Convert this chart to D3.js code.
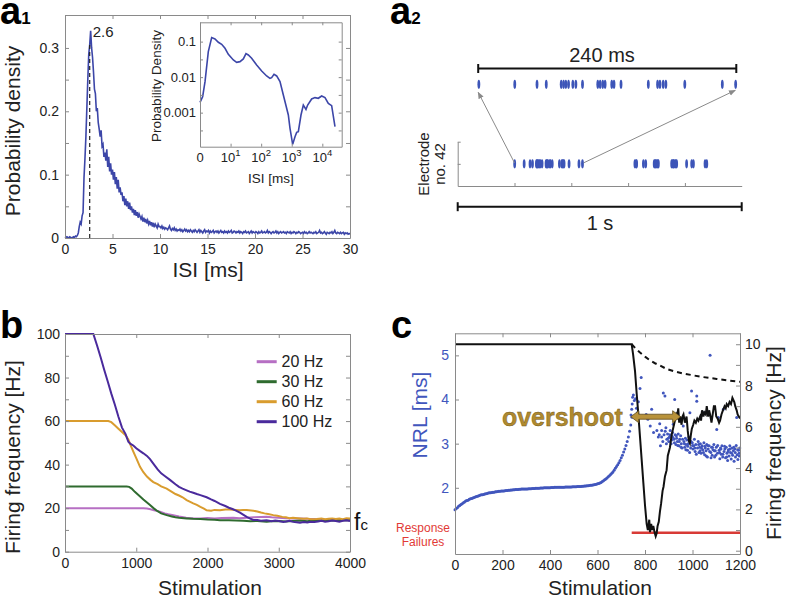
<!DOCTYPE html>
<html><head><meta charset="utf-8">
<script src="https://cdn.jsdelivr.net/npm/d3@7"></script>
<style>body{margin:0;background:#fff}svg{display:block}</style>
</head><body>
<script>
// ================= DATA =================
// a1: ISI histogram (probability density), bins of 0.1 ms from 0 to 30 ms
const isiStepMs = 0.1;
const isiDensity = [
0.000,0.001,0.002,0.001,0.000,0.002,0.001,0.000,0.001,0.002,
0.001,0.003,0.002,0.004,0.008,0.018,0.025,0.022,0.035,0.040,
0.095,0.125,0.160,0.205,0.250,0.290,0.305,0.327,0.300,0.285,
0.262,0.235,0.228,0.200,0.205,0.182,0.172,0.160,0.170,0.145,
0.148,0.128,0.135,0.122,0.140,0.112,0.128,0.105,0.118,0.100,
0.108,0.092,0.104,0.085,0.096,0.078,0.092,0.072,0.080,0.068,
0.072,0.058,0.066,0.052,0.062,0.050,0.058,0.046,0.056,0.044,
0.050,0.040,0.046,0.036,0.044,0.035,0.041,0.032,0.038,0.034,
0.030,0.034,0.026,0.032,0.025,0.030,0.023,0.028,0.022,0.027,
0.020,0.025,0.018,0.024,0.017,0.022,0.019,0.016,0.022,0.018,
0.018,0.016,0.019,0.015,0.017,0.014,0.016,0.015,0.013,0.016,
0.019,0.014,0.012,0.015,0.013,0.016,0.012,0.014,0.011,0.013,
0.012,0.014,0.011,0.013,0.010,0.012,0.014,0.011,0.013,0.010,
0.012,0.010,0.013,0.011,0.009,0.012,0.010,0.013,0.011,0.009,
0.011,0.013,0.009,0.012,0.010,0.008,0.011,0.013,0.009,0.011,
0.010,0.012,0.008,0.011,0.009,0.010,0.012,0.008,0.010,0.011,
0.009,0.011,0.008,0.010,0.012,0.009,0.010,0.008,0.011,0.009,
0.010,0.008,0.011,0.009,0.010,0.012,0.008,0.009,0.011,0.010,
0.008,0.010,0.009,0.011,0.008,0.010,0.009,0.007,0.010,0.009,
0.011,0.008,0.009,0.010,0.007,0.009,0.011,0.008,0.010,0.009,
0.008,0.010,0.009,0.007,0.010,0.008,0.009,0.011,0.008,0.009,
0.010,0.008,0.009,0.012,0.008,0.010,0.009,0.007,0.009,0.010,
0.008,0.009,0.011,0.008,0.010,0.007,0.009,0.010,0.008,0.009,
0.010,0.008,0.009,0.007,0.010,0.009,0.008,0.010,0.007,0.009,
0.008,0.010,0.009,0.007,0.009,0.008,0.010,0.009,0.007,0.008,
0.009,0.007,0.010,0.008,0.009,0.007,0.008,0.010,0.008,0.009,
0.008,0.007,0.009,0.008,0.010,0.007,0.008,0.009,0.012,0.008,
0.009,0.007,0.008,0.010,0.008,0.006,0.009,0.008,0.007,0.009,
0.008,0.010,0.007,0.009,0.012,0.008,0.007,0.009,0.008,0.007,
0.009,0.007,0.008,0.009,0.006,0.008,0.007,0.008,0.006,0.007,
0.006];
const isiPeakMs = 2.6;
const isiXTicks = [0,5,10,15,20,25,30];
const isiYTicks = [0,0.05,0.1,0.15,0.2,0.25,0.3];

// a1 inset: log-log ISI density
const insetISI = [1,1.22,1.46,1.87,2.41,3.09,3.98,5.11,6.57,8.44,12.3,15.8,20.3,26.1,31.9,38.0,48.9,71.2,104,151,194,220,263,321,413,531,773,877,1072,1277,1449,1641,2006,2392,2923,3315,4477,5754,7396,9506,12218,15703,20184,25942];
const insetDensity = [0.00195,0.00282,0.00746,0.0522,0.130,0.119,0.0957,0.084,0.065,0.044,0.0305,0.0262,0.0273,0.0325,0.0459,0.0421,0.0339,0.0220,0.0149,0.0108,0.00927,0.00968,0.0120,0.0108,0.00746,0.00315,0.000859,0.000362,0.000128,0.000211,0.000279,0.000292,0.000859,0.00164,0.00124,0.00164,0.00243,0.00265,0.00254,0.00295,0.00265,0.00183,0.00157,0.000404];
const insetXTicks = [1,10,100,1000,10000];
const insetYTicks = [0.1,0.0316,0.01,0.00316,0.001,0.000316];

// a2: spike times of electrode no. 42 within 1 s (ms)
const spikeTimesMs = [200.6,234,254.7,263.3,277.2,279.4,281.5,284,288,290.8,297,311.2,313.4,315.8,318,324.2,326.3,332.8,358.2,366.8,369,372,374.5,392.1,427,439.4,
  624,628,630,654,662,692,695,697,700.7,704,706.6,753.5,757,759.4,761,765,768,771,806,824,830,871,877];
const zoomWindowMs = [200,440];
const rasterTicksMs = [200,400,600,800];

// b: firing frequency vs stimulation for 4 stimulation rates
const freqLabels = ["20 Hz","30 Hz","60 Hz","100 Hz"];
const f20Stim = [0,1099,1150,1200,1250,1333,1400,1450,1520,1600,1700,1801,1900,2000,2100,2200,2362,2450,2550,2650,2750,2830,2900,3000,3100,3200,3298,3400,3500,3600,3700,3800,3900,4000];
const f20Hz   = [20,20,19.8,19.5,19,18.4,17.6,17.2,16.8,16.2,15.6,15.3,15.3,15.5,15.3,15.5,15.6,15.4,15.6,15.8,15.9,16,15.8,15.6,15.4,15.3,15.3,15.1,15,14.8,14.6,14.7,14.5,14.5];
const f30Stim = [0,865,900,936,980,1050,1100,1193,1250,1300,1350,1427,1500,1550,1600,1707,1800,1900,2000,2100,2175,2300,2400,2500,2600,2700,2830,2900,3000,3100,3200,3300,3400,3500,3600,3700,3800,3900,4000];
const f30Hz   = [30,30,29.8,29,27.5,25.5,24,21.4,19.8,18.6,17.6,16.8,16.2,15.8,15.6,15.3,15.1,15,14.8,14.7,14.5,14.4,14.3,14.2,14,14.1,13.8,14,14.1,13.9,14.1,14.3,14,14.4,14.2,14.5,14.3,14.6,14.4];
const f60Stim = [0,608,650,702,750,800,850,889,920,959,1000,1053,1100,1150,1200,1240,1300,1350,1427,1500,1550,1600,1650,1707,1750,1800,1850,1900,1950,1988,2050,2100,2175,2250,2316,2400,2450,2500,2550,2643,2700,2750,2800,2850,2924,2980,3050,3100,3150,3200,3298,3350,3400,3450,3532,3600,3650,3700,3750,3800,3850,3900,3950,4000];
const f60Hz   = [60,60,59.5,58,56.5,55,53.5,51.5,49,46,43,39,36.5,34.5,33,32,31,30,29,27.5,26.5,25.8,25,23.7,23,22.2,21.5,20.6,19.8,19,18.8,19.2,19,19.4,19.4,19.2,19,19.2,19.1,18.8,18.5,18,17.6,17.3,16.8,16.5,16,15.8,15.4,15.6,15.3,15.1,15.3,14.9,15,15.2,14.9,15.1,15.3,15,15.2,14.9,15.4,15.3];
const f100Stim = [0,398,450,500,550,600,650,700,750,800,850,889,920,959,1000,1050,1100,1150,1193,1250,1300,1350,1400,1473,1550,1600,1650,1707,1750,1800,1850,1900,1988,2050,2100,2175,2250,2300,2350,2400,2456,2500,2550,2600,2643,2700,2750,2830,2900,2950,3000,3064,3100,3150,3200,3250,3298,3350,3400,3450,3500,3550,3600,3650,3700,3750,3800,3850,3900,3950,4000];
const f100Hz   = [100,100,94.7,89.3,83.6,78.2,72.6,67.5,62,57,54,50.5,49.5,48.8,47.5,46.3,45.2,44,42.5,40,37.8,36,34.8,33,31,29.8,29,28.2,27.6,27.1,26.5,26,25,24,23.3,22,21,20.2,19.6,18.9,17.9,17,16,15.2,14.6,14.6,14.2,14.4,14,14.3,14.1,13.6,13.9,14.2,13.7,13.5,13.3,13.6,13.4,13.8,13.6,13.9,14.2,13.8,14,14.3,14.1,13.8,14.2,14.4,14.1];
const bXTicks = [0,1000,2000,3000,4000];
const bYTicks = [0,10,20,30,40,50,60,70,80,90,100];

// c: NRL (ms) per stimulation, before failures (every 5th stimulation 0..745)
const nrlEarlyStep = 5;
const nrlEarly = [
1.50,1.53,1.55,1.58,1.60,1.62,1.64,1.66,1.68,1.70,
1.71,1.72,1.74,1.75,1.76,1.77,1.78,1.79,1.80,1.81,
1.82,1.83,1.84,1.845,1.85,1.86,1.865,1.87,1.88,1.885,
1.89,1.895,1.90,1.90,1.91,1.91,1.915,1.92,1.92,1.925,
1.93,1.93,1.935,1.94,1.94,1.945,1.945,1.95,1.95,1.955,
1.955,1.96,1.96,1.96,1.965,1.965,1.97,1.97,1.97,1.975,
1.975,1.975,1.98,1.98,1.98,1.985,1.985,1.985,1.99,1.99,
1.99,1.99,1.995,1.995,1.995,2.0,2.0,2.0,2.0,2.0,
2.0,2.005,2.005,2.005,2.01,2.01,2.01,2.01,2.01,2.015,
2.015,2.015,2.015,2.02,2.02,2.02,2.02,2.02,2.02,2.025,
2.025,2.025,2.025,2.03,2.03,2.03,2.03,2.035,2.035,2.04,
2.04,2.045,2.045,2.05,2.055,2.06,2.065,2.07,2.075,2.08,
2.09,2.10,2.11,2.12,2.14,2.16,2.18,2.20,2.22,2.25,
2.27,2.30,2.33,2.36,2.40,2.44,2.48,2.52,2.57,2.62,
2.68,2.74,2.81,2.88,2.96,3.05,3.15,3.28,3.42,3.60];
// c: NRL scatter after failures begin [stimulation, NRL ms]
const nrlLate = [[741,3.65],[744,3.78],[746,3.9],[748,4.05],[751,4.1],[755,3.98],[760,4.02],[764,3.8],[768,3.7],[772,3.95],[779,4.25],[784,4.5],[790,3.62],[805,3.66],[812,3.55],[822,3.4],[828,3.78],[836,3.25],[845,3.59],[850,3.3],[856,3.15],[862,3.45],[870,3.3],[877,4.15],[880,3.2],[884,4.08],[888,3.36],[892,3.1],[895,3.22],[900,3.05],[903,3.15],[906,3.3],[910,3.0],[913,3.18],[916,3.25],[919,3.44],[922,3.1],[925,4.0],[927,3.2],[930,2.98],[933,3.12],[936,3.05],[940,3.22],[943,2.95],[946,3.1],[950,3.18],[953,3.0],[956,2.9],[961,3.4],[964,3.05],[967,2.92],[970,3.12],[973,2.98],[976,3.08],[979,2.85],[982,3.0],[985,3.15],[989,3.7],[992,2.9],[996,4.19],[999,3.02],[1002,2.88],[1005,2.95],[1008,3.1],[1011,2.82],[1014,2.98],[1018,4.08],[1018,3.96],[1021,2.9],[1024,3.05],[1027,2.8],[1030,2.92],[1033,3.0],[1036,2.78],[1040,2.95],[1043,2.86],[1045,3.7],[1048,3.02],[1051,2.75],[1054,2.9],[1057,2.84],[1060,2.98],[1063,2.7],[1066,2.88],[1070,2.95],[1074,5.0],[1077,2.8],[1080,2.92],[1083,2.74],[1086,2.86],[1090,2.98],[1093,2.7],[1096,2.84],[1100,2.92],[1102,3.32],[1105,2.78],[1109,3.59],[1112,2.85],[1115,2.66],[1118,2.9],[1121,2.76],[1124,2.95],[1127,2.7],[1130,3.78],[1133,2.82],[1136,2.88],[1139,2.68],[1142,2.92],[1145,2.78],[1148,2.62],[1151,2.86],[1154,2.72],[1157,2.95],[1160,2.8],[1163,2.65],[1166,2.9],[1169,2.74],[1172,2.84],[1175,2.6],[1178,2.88],[1181,2.7],[1184,2.96],[1186,3.59],[1188,2.75],[1191,2.64],[1194,2.85],[1197,2.72],[1199,2.9],
[898,3.12],[905,3.2],[912,3.08],[918,3.14],[924,3.02],[932,3.18],[938,2.96],[944,3.05],[952,2.92],[958,3.1],[966,3.0],[972,2.86],[980,2.94],[988,2.8],[994,3.05],[1000,2.96],[1010,2.9],[1016,2.76],[1026,2.98],[1032,2.84],[1038,2.9],[1046,2.8],[1052,2.94],[1058,2.72],[1064,2.96],[1072,2.82],[1078,2.68],[1084,2.92],[1092,2.84],[1098,2.74],[1106,2.96],[1114,2.8],[1120,2.88],[1128,2.76],[1135,2.94],[1144,2.7],[1150,2.82],[1158,2.88],[1165,2.78],[1174,2.92],[1180,2.8],[1190,2.86],[1196,2.78],[870,3.15],[875,3.05],[885,3.28],[890,3.0],[860,3.2],[865,2.95]];
// c: firing frequency (Hz), solid and dashed
const fireStim = [0,744,750,758,765,772,779,786,793,800,807,812,818,821,826,830,835,840,845,849,853,858,863,868,874,878,884,891,896,905,912,920,926,932,936,940,944,948,954,958,962,968,975,980,985,989,993,997,1003,1008,1014,1020,1025,1032,1036,1040,1046,1050,1056,1060,1066,1070,1074,1080,1085,1090,1095,1100,1106,1112,1116,1122,1128,1135,1140,1144,1150,1156,1162,1168,1172,1176,1180,1186,1190,1195,1200];
const fireHz   = [10,10,9.5,8.7,7.6,6.6,5.5,4.4,3.3,2.2,1.3,1.0,1.5,0.9,1.3,1.0,1.2,0.9,0.7,0.84,1.2,1.4,1.9,2.3,2.9,3.1,3.6,3.9,4.6,5.0,5.6,6.0,6.3,6.6,6.5,6.9,6.2,6.5,6.1,6.5,6.6,6.2,6.5,5.8,5.3,5.2,5.6,5.9,6.1,6.3,6.2,6.4,6.3,6.5,6.3,6.8,6.5,6.7,6.6,7.0,6.5,6.8,6.6,6.2,6.6,7.0,7.0,6.5,6.4,6.2,6.3,6.6,6.8,7.0,6.9,7.1,7.0,7.2,7.1,7.4,7.3,7.2,7.0,6.8,6.6,6.5,6.4];
const fireDashStim = [744,760,779,800,821,842,863,891,920,961,1000,1032,1070,1102,1150,1200];
const fireDashHz   = [10,9.8,9.6,9.4,9.22,9.08,8.97,8.8,8.7,8.58,8.5,8.43,8.37,8.32,8.24,8.18];
const failureRange = [744,1200];
const failureHzLevel = 0.87;
const overshootRange = [740,950];
const overshootNRL = 3.61;
const cXTicks = [0,200,400,600,800,1000,1200];
const cNRLTicks = [2,3,4,5];
const cHzTicks = [0,1,2,3,4,5,6,7,8,9,10];

// ================= DRAWING =================
const FONT = "Arial, 'Liberation Sans', Helvetica, sans-serif";
const C_AX = "#8a8a8a", C_TXT = "#222";
const BLUE = "#3c46a8";
const svg = d3.select("body").append("svg").attr("width",787).attr("height",600)
  .attr("font-family", FONT);

function styleAxis(s, fs, color) {
  s.attr("font-family", FONT).attr("font-size", fs);
  s.select(".domain").attr("stroke", C_AX).attr("stroke-width", 1);
  s.selectAll(".tick line").attr("stroke", C_AX);
  s.selectAll(".tick text").attr("fill", color || C_TXT);
}
function boxAxes(g, x, y, o) {
  const L = o.len || 4;
  const yb = y.range()[0], yt = y.range()[1], xl = x.range()[0], xr = x.range()[1];
  const none = () => "";
  g.append("g").attr("transform", `translate(0,${yb})`)
    .call(d3.axisBottom(x).tickValues(o.xTicks).tickSize(-L).tickSizeOuter(0).tickPadding(o.xPad ?? 5).tickFormat(o.xFmt || (d => d)))
    .call(s => styleAxis(s, o.fs || 14));
  g.append("g").attr("transform", `translate(0,${yt})`)
    .call(d3.axisTop(x).tickValues(o.xTicks).tickSize(-L).tickSizeOuter(0).tickFormat(none))
    .call(s => styleAxis(s, 10));
  g.append("g").attr("transform", `translate(${xl},0)`)
    .call(d3.axisLeft(y).tickValues(o.yTicks).tickSize(-L).tickSizeOuter(0).tickPadding(o.yPad ?? 5).tickFormat(o.yFmt || (d => d)))
    .call(s => styleAxis(s, o.fs || 14, o.yColor));
  if (!o.noRight) {
    g.append("g").attr("transform", `translate(${xr},0)`)
      .call(d3.axisRight(y).tickValues(o.yTicks).tickSize(-L).tickSizeOuter(0).tickFormat(none))
      .call(s => styleAxis(s, 10));
  }
}
function label(x, y, txt, size, opts = {}) {
  const t = svg.append("text").attr("x", x).attr("y", y).attr("font-size", size)
    .attr("fill", opts.fill || C_TXT).attr("text-anchor", opts.anchor || "middle").text(txt);
  if (opts.rotate) t.attr("transform", `rotate(-90,${x},${y})`);
  if (opts.weight) t.attr("font-weight", opts.weight);
  return t;
}
function panelLabel(x, y, main, sub) {
  const t = svg.append("text").attr("x", x).attr("y", y).attr("font-size", 38).attr("font-weight", "bold").attr("fill", "#000");
  t.append("tspan").text(main);
  if (sub) t.append("tspan").attr("font-size", 17).text(sub);
}

// ---------- a1 ----------
{
  const g = svg.append("g");
  const x = d3.scaleLinear().domain([0,30]).range([65,350]);
  const y = d3.scaleLinear().domain([0,0.352]).range([238,15]);
  const pts = isiDensity.map((v,i) => [i*isiStepMs, v]);
  g.append("path").datum(pts).attr("fill","none").attr("stroke",BLUE).attr("stroke-width",1.6)
    .attr("d", d3.line().x(d=>x(d[0])).y(d=>y(d[1])));
  const peakVal = isiDensity[Math.round(isiPeakMs/isiStepMs)];
  g.append("line").attr("x1",x(isiPeakMs)).attr("x2",x(isiPeakMs)).attr("y1",y(0)).attr("y2",y(peakVal))
    .attr("stroke","#222").attr("stroke-width",1.2).attr("stroke-dasharray","4,3");
  g.append("text").attr("x", x(isiPeakMs)+3).attr("y", y(0.318)).attr("font-size",15).attr("fill",C_TXT).text(String(isiPeakMs));
  boxAxes(g, x, y, {xTicks: isiXTicks, yTicks: isiYTicks, xPad: 6, yPad: 6,
    yFmt: d => (Math.round(d*100) % 10 === 0 ? (d === 0 ? "0" : d.toFixed(1)) : "")});
  label(20, 131, "Probability density", 21, {rotate: true});
  label(208, 277, "ISI [ms]", 21);
  panelLabel(0, 24, "a", "1");

  // inset
  const ix = d3.scaleLog().domain([1, 43000]).range([200, 341.7]);
  const iy = d3.scaleLog().domain([1.1e-4, 0.35]).range([146.7, 22.3]);
  g.append("rect").attr("x",200).attr("y",22.3).attr("width",141.7).attr("height",124.4).attr("fill","#fff");
  g.append("path").datum(insetISI.map((v,i)=>[v, insetDensity[i]])).attr("fill","none").attr("stroke",BLUE).attr("stroke-width",1.6)
    .attr("d", d3.line().x(d=>ix(d[0])).y(d=>iy(d[1])));
  const isDecade = d => Math.abs(Math.log10(d) - Math.round(Math.log10(d))) < 1e-3;
  boxAxes(g, ix, iy, {xTicks: insetXTicks, yTicks: insetYTicks, fs: 13, len: 3, xPad: 5, yPad: 4,
    xFmt: d => "", yFmt: d => isDecade(d) ? String(d) : ""});
  insetXTicks.forEach(v => {
    const t = g.append("text").attr("x", ix(v)).attr("y", 162).attr("text-anchor","middle").attr("font-size",13).attr("fill",C_TXT);
    if (v === 1) t.text("0");
    else { t.append("tspan").text("10"); t.append("tspan").attr("dy",-6).attr("font-size",9.5).text(String(Math.round(Math.log10(v)))); }
  });
  label(161, 86, "Probability Density", 13.5, {rotate: true});
  label(271, 183, "ISI [ms]", 13.5);
}

// ---------- a2 ----------
{
  const g = svg.append("g");
  const SP = "#3d55b8";
  const botX = d3.scaleLinear().domain([0,1000]).range([457.7,741.7]);
  const botY = d3.scaleLinear().domain([0,2]).range([186,141.7]);
  const topX = d3.scaleLinear().domain(zoomWindowMs).range([478.2,736.3]);
  const topY = 84.3;
  g.append("g").attr("transform","translate(0,186)")
    .call(d3.axisBottom(botX).tickValues(rasterTicksMs).tickSize(-3).tickSizeOuter(0).tickFormat(()=>""))
    .call(s=>styleAxis(s,10));
  g.append("g").attr("transform","translate(457.7,0)")
    .call(d3.axisLeft(botY).tickValues([1,2]).tickSize(-3).tickSizeOuter(0).tickFormat(()=>""))
    .call(s=>styleAxis(s,10));
  g.selectAll(".spB").data(spikeTimesMs).join("ellipse").attr("cx", d=>botX(d)).attr("cy", botY(1))
    .attr("rx",1.4).attr("ry",4.6).attr("fill",SP);
  const inWin = spikeTimesMs.filter(t => t >= zoomWindowMs[0] && t <= zoomWindowMs[1]);
  g.selectAll(".spT").data(inWin).join("ellipse").attr("cx", d=>topX(d)).attr("cy", topY)
    .attr("rx",1.4).attr("ry",4.6).attr("fill",SP);
  const defs = svg.append("defs");
  defs.append("marker").attr("id","ah").attr("viewBox","0 0 10 10").attr("refX",9).attr("refY",5)
    .attr("markerWidth",7).attr("markerHeight",7).attr("orient","auto")
    .append("path").attr("d","M0,1 L10,5 L0,9 Z").attr("fill","#8a8a8a");
  g.append("line").attr("x1",botX(zoomWindowMs[0])).attr("y1",botY(1)-1).attr("x2",topX(zoomWindowMs[0])).attr("y2",topY+8)
    .attr("stroke","#8a8a8a").attr("stroke-width",1).attr("marker-end","url(#ah)");
  g.append("line").attr("x1",botX(zoomWindowMs[1])+1).attr("y1",botY(1)-1).attr("x2",topX(zoomWindowMs[1])-1).attr("y2",topY+6)
    .attr("stroke","#8a8a8a").attr("stroke-width",1).attr("marker-end","url(#ah)");
  function bar(x0, x1, yy) {
    g.append("line").attr("x1",x0).attr("x2",x1).attr("y1",yy).attr("y2",yy).attr("stroke","#111").attr("stroke-width",2);
    [x0,x1].forEach(xx => g.append("line").attr("x1",xx).attr("x2",xx).attr("y1",yy-4.5).attr("y2",yy+4.5).attr("stroke","#111").attr("stroke-width",2));
  }
  bar(topX(zoomWindowMs[0]), topX(zoomWindowMs[1]), 68.5);
  label(602, 62, (zoomWindowMs[1]-zoomWindowMs[0]) + " ms", 20);
  bar(botX(0), botX(1000), 206.7);
  label(600, 230, "1 s", 20);
  label(429, 164, "Electrode", 15, {rotate: true});
  label(445, 164, "no. 42", 15, {rotate: true});
  panelLabel(390, 24, "a", "2");
}

// ---------- b ----------
{
  const g = svg.append("g");
  const x = d3.scaleLinear().domain([0,4000]).range([65,350]);
  const y = d3.scaleLinear().domain([0,100]).range([551.7,334]);
  const series = [
    {lab: freqLabels[0], s: f20Stim, v: f20Hz, c: "#b66fc3"},
    {lab: freqLabels[1], s: f30Stim, v: f30Hz, c: "#2f6b2f"},
    {lab: freqLabels[2], s: f60Stim, v: f60Hz, c: "#d99c2e"},
    {lab: freqLabels[3], s: f100Stim, v: f100Hz, c: "#4a2a9c"}];
  const line = d3.line().x(d=>x(d[0])).y(d=>y(d[1]));
  series.forEach(se => {
    g.append("path").datum(se.s.map((s,i)=>[s, se.v[i]])).attr("fill","none").attr("stroke",se.c).attr("stroke-width",2).attr("d", line);
  });
  boxAxes(g, x, y, {xTicks: bXTicks, yTicks: bYTicks, xPad: 6, yPad: 5, yFmt: d => d % 20 === 0 ? d : ""});
  series.forEach((se,i) => {
    const yy = 361.7 + i*20;
    g.append("line").attr("x1",256.7).attr("x2",276.7).attr("y1",yy).attr("y2",yy).attr("stroke",se.c).attr("stroke-width",3);
    g.append("text").attr("x",281.5).attr("y",yy).attr("dy","0.35em").attr("font-size",16).attr("fill",C_TXT).text(se.lab);
  });
  const fc = svg.append("text").attr("x",354).attr("y",530).attr("font-size",23).attr("fill","#111");
  fc.append("tspan").text("f"); fc.append("tspan").attr("font-size",15).text("c");
  label(20, 457, "Firing frequency [Hz]", 21, {rotate: true});
  label(210, 595, "Stimulation", 21);
  panelLabel(0, 338, "b");
}

// ---------- c ----------
{
  const g = svg.append("g");
  const NRLC = "#4156bd";
  const x = d3.scaleLinear().domain([0,1200]).range([455,740]);
  const yN = d3.scaleLinear().domain([0.5,5.5]).range([554,333.3]);
  const yF = d3.scaleLinear().domain([-0.16,10.53]).range([554,333.3]);
  const early = nrlEarly.map((v,i)=>[i*nrlEarlyStep, v]);
  g.selectAll(".dE").data(early.concat(nrlLate)).join("circle").attr("cx",d=>x(d[0])).attr("cy",d=>yN(d[1]))
    .attr("r",1.5).attr("fill",NRLC);
  g.append("line").attr("x1",x(failureRange[0])).attr("x2",x(failureRange[1])).attr("y1",yF(failureHzLevel)).attr("y2",yF(failureHzLevel))
    .attr("stroke","#d83a36").attr("stroke-width",2.5);
  const line = d3.line().x(d=>x(d[0])).y(d=>yF(d[1]));
  g.append("path").datum(fireDashStim.map((s,i)=>[s, fireDashHz[i]])).attr("fill","none").attr("stroke","#111")
    .attr("stroke-width",2).attr("stroke-dasharray","5,4").attr("d", line);
  g.append("path").datum(fireStim.map((s,i)=>[s, fireHz[i]])).attr("fill","none").attr("stroke","#111")
    .attr("stroke-width",2).attr("d", line);
  const none = () => "";
  g.append("g").attr("transform","translate(0,554)")
    .call(d3.axisBottom(x).tickValues(cXTicks).tickSize(-4).tickSizeOuter(0).tickPadding(6).tickFormat(d => String(d))).call(s=>styleAxis(s,14));
  g.append("g").attr("transform","translate(0,333.3)")
    .call(d3.axisTop(x).tickValues(cXTicks).tickSize(-4).tickSizeOuter(0).tickFormat(none)).call(s=>styleAxis(s,10));
  g.append("g").attr("transform","translate(455,0)")
    .call(d3.axisLeft(yN).tickValues(cNRLTicks).tickSize(-4).tickSizeOuter(0).tickPadding(6).tickFormat(d => String(d))).call(s=>styleAxis(s,14,NRLC));
  g.append("g").attr("transform","translate(740,0)")
    .call(d3.axisRight(yF).tickValues(cHzTicks).tickSize(-4).tickSizeOuter(0).tickPadding(5).tickFormat(d => d % 2 === 0 ? String(d) : ""))
    .call(s=>styleAxis(s,14));
  const ax0 = x(overshootRange[0]), ax1 = x(overshootRange[1]), ay = yN(overshootNRL);
  const hl = 8, hw = 6, sw = 2.5;
  g.append("path").attr("d", `M${ax0},${ay} L${ax0+hl},${ay-hw} L${ax0+hl},${ay-sw} L${ax1-hl},${ay-sw} L${ax1-hl},${ay-hw} L${ax1},${ay} L${ax1-hl},${ay+hw} L${ax1-hl},${ay+sw} L${ax0+hl},${ay+sw} L${ax0+hl},${ay+hw} Z`)
    .attr("fill","#b8923a").attr("stroke","#5e4a1c").attr("stroke-width",0.8);
  g.append("text").attr("x", ax0-8).attr("y", ay+9).attr("text-anchor","end").attr("font-size",25).attr("font-weight","bold")
    .attr("fill","#b08a2e").attr("stroke","#6e5520").attr("stroke-width",0.4).text("overshoot");
  label(423, 532, "Response", 12, {fill: "#e23a36"});
  label(423, 546, "Failures", 12, {fill: "#e23a36"});
  label(427, 415, "NRL [ms]", 21, {rotate: true, fill: NRLC});
  label(781, 443, "Firing frequency [Hz]", 21, {rotate: true});
  label(600, 595, "Stimulation", 21);
  panelLabel(391, 338, "c");
}
</script>
</body></html>
